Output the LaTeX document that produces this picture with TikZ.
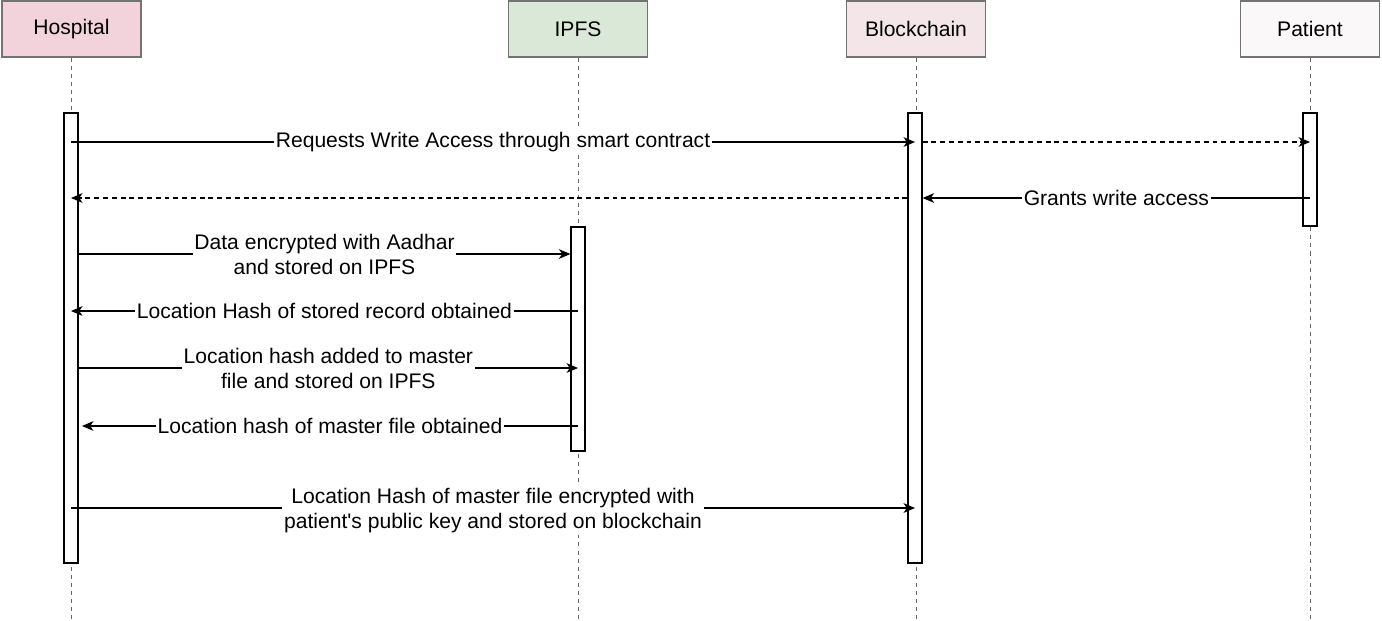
\documentclass[tikz,border=0pt]{standalone}
\usepackage{fontspec}
\setmainfont{Liberation Sans}
\usetikzlibrary{arrows.meta}
\definecolor{hospitalfill}{RGB}{242,211,220}
\definecolor{ipfsfill}{RGB}{218,232,216}
\definecolor{chainfill}{RGB}{244,229,232}
\definecolor{patientfill}{RGB}{250,248,248}
\tikzset{
	actor/.style={draw=black!55, line width=0.6pt, minimum width=2.78cm, minimum height=1.12cm, font=\fontsize{12}{14.2}\selectfont},
	lifeline/.style={draw=black!60, line width=0.5pt, dash pattern=on 2.3pt off 2.3pt},
	bar/.style={draw, fill=white, line width=0.7pt, minimum width=0.28cm, inner sep=0pt},
	msg/.style={line width=0.8pt, -{Stealth[length=6.5pt, width=5.5pt, inset=1.8pt]}},
	reply/.style={msg, dash pattern=on 2.8pt off 2.2pt},
	lbl/.style={fill=white, inner sep=1pt, align=center, font=\fontsize{12}{14.2}\selectfont}
}

\begin{document}
\begin{tikzpicture}[x=0.02cm, y=-0.02cm]
	%%%%% START %%%%%
	\useasboundingbox (0,0) rectangle (1382,620);
	\coordinate (bottom) at (0,620);

	% heads
	\node[actor, fill=hospitalfill] (hosp) at (71.5,29) {Hospital};
	\node[actor, fill=ipfsfill] (ipfs) at (578,29) {IPFS};
	\node[actor, fill=chainfill] (chain) at (916,29) {Blockchain};
	\node[actor, fill=patientfill] (pat) at (1310,29) {Patient};

	% lifelines
	\draw[lifeline] (hosp.south) -- (hosp.south |- bottom);
	\draw[lifeline] (ipfs.south) -- (ipfs.south |- bottom);
	\draw[lifeline] (chain.south) -- (chain.south |- bottom);
	\draw[lifeline] (pat.south) -- (pat.south |- bottom);

	% activations
	\node[bar, minimum height=9cm] (hbar) at (71,338) {};
	\node[bar, minimum height=4.48cm] (ibar) at (578,339) {};
	\node[bar, minimum height=9cm] (cbar) at (915,338) {};
	\node[bar, minimum height=2.26cm] (pbar) at (1310,169.5) {};

	% message rows
	\coordinate (r1) at (0,142);
	\coordinate (r2) at (0,198);
	\coordinate (r3) at (0,254);
	\coordinate (r4) at (0,311);
	\coordinate (r5) at (0,368);
	\coordinate (r6) at (0,426);
	\coordinate (r7) at (0,508);
	\coordinate (h6) at (82,426);

	\draw[msg] (hbar |- r1) -- node[lbl] {Requests Write Access through smart contract} (cbar |- r1);
	\draw[reply] (cbar.east |- r1) -- (pbar |- r1);

	\draw[msg] (pbar |- r2) -- node[lbl] {Grants write access} (cbar.east |- r2);
	\draw[reply] (cbar.west |- r2) -- (hbar |- r2);

	\draw[msg] (hbar.east |- r3) -- node[lbl] {Data encrypted with Aadhar\\and stored on IPFS} (ibar.west |- r3);
	\draw[msg] (ibar |- r4) -- node[lbl] {Location Hash of stored record obtained} (hbar |- r4);
	\draw[msg] (hbar.east |- r5) -- node[lbl] {Location hash added to master\\file and stored on IPFS} (ibar |- r5);
	\draw[msg] (ibar |- r6) -- node[lbl] {Location hash of master file obtained} (h6);

	\draw[msg] (hbar |- r7) -- node[lbl, yshift=-0.05cm] {Location Hash of master file encrypted with\\patient\textquotesingle s public key and stored on blockchain} (cbar |- r7);
	%%%%% END %%%%%
\end{tikzpicture}
\end{document}
